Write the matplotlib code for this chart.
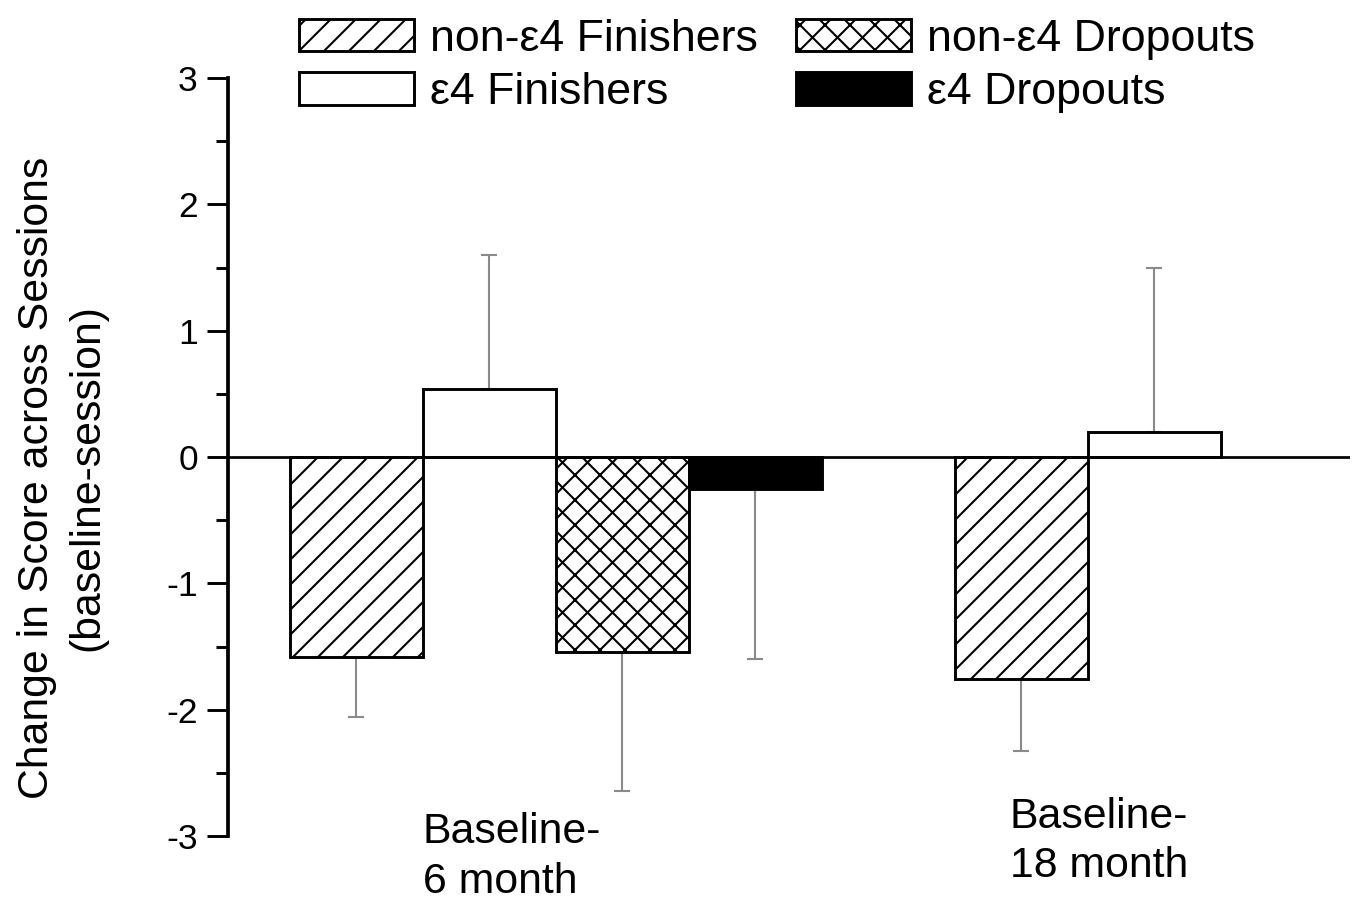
import numpy as np
import matplotlib
matplotlib.use("Agg")
import matplotlib.pyplot as plt
from matplotlib import transforms

plt.rcParams['font.family'] = ['Liberation Sans', 'DejaVu Sans']
plt.rcParams['hatch.linewidth'] = 1.0
plt.rcParams['axes.unicode_minus'] = False

# Mean change in score (baseline - session) and one-sided SD, per group
series = ["non-\u03b54 Finishers", "\u03b54 Finishers", "non-\u03b54 Dropouts", "\u03b54 Dropouts"]
sessions = ["Baseline-\n6 month", "Baseline-\n18 month"]
means = {
    "non-\u03b54 Finishers": [-1.58, -1.76],
    "\u03b54 Finishers": [0.54, 0.20],
    "non-\u03b54 Dropouts": [-1.54, np.nan],
    "\u03b54 Dropouts": [-0.25, np.nan],
}
errors = {
    "non-\u03b54 Finishers": [0.48, 0.57],
    "\u03b54 Finishers": [1.06, 1.30],
    "non-\u03b54 Dropouts": [1.10, np.nan],
    "\u03b54 Dropouts": [1.35, np.nan],
}

hatches = ["//", "", "xx", ""]
faces = ["white", "white", "white", "black"]
group_start = [0, 5]
label_x = [0.5, 4.91]
label_y = [0.054, 0.071]

fig = plt.figure(figsize=(1360 / 150, 906 / 150), dpi=150)
ax = fig.add_axes([228 / 1360, 1 - 836 / 906, 1122 / 1360, 758 / 906])

for i, name in enumerate(series):
    for g in range(len(sessions)):
        m = means[name][g]
        if np.isnan(m):
            continue
        x = group_start[g] + i
        ax.bar(x, m, width=1.0, facecolor=faces[i], edgecolor="black",
               hatch=hatches[i], linewidth=1.4, zorder=2,
               label=name if g == 0 else None)
        e = errors[name][g]
        yerr = [[e], [0]] if m < 0 else [[0], [e]]
        ax.errorbar(x, m, yerr=yerr, fmt="none", ecolor="#8a8a8a",
                    elinewidth=1.0, capsize=4, capthick=1.0, zorder=1)

ax.axhline(0, color="black", linewidth=1.3, zorder=3)

ax.set_xlim(-0.966, 7.47)
ax.set_ylim(-3, 3)
ax.set_yticks(np.arange(-3, 4, 1))
ax.set_yticks(np.arange(-2.5, 3, 1), minor=True)
ax.set_xticks([])
for side in ["top", "right", "bottom"]:
    ax.spines[side].set_visible(False)
ax.spines["left"].set_linewidth(1.8)
ax.tick_params(axis="y", which="major", direction="out", length=10,
               width=1.4, pad=4.5, labelsize=17)
ax.tick_params(axis="y", which="minor", direction="out", length=6, width=1.4)

trans = transforms.blended_transform_factory(ax.transData, fig.transFigure)
for k, s in enumerate(sessions):
    ax.text(label_x[k], label_y[k], s, transform=trans, ha="left",
            va="center", fontsize=20.5, linespacing=1.3)

fig.text(62 / 1360, 1 - 478 / 906,
         "Change in Score across Sessions\n(baseline-session)",
         rotation=90, ha="center", va="center", fontsize=20.5,
         multialignment="center", linespacing=1.35)

handles, labels = ax.get_legend_handles_labels()
fig.legend(handles, labels, ncol=2, loc="upper left",
           bbox_to_anchor=(268 / 1360, 1.014), frameon=False, fontsize=21.5,
           handlelength=2.57, handleheight=0.74, handletextpad=0.35,
           columnspacing=0.85, labelspacing=0.28, borderpad=0.2)

fig.savefig("out.png", dpi=150)
